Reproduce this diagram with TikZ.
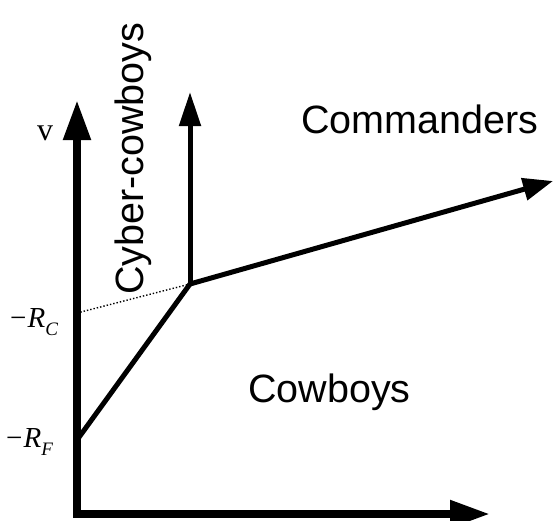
\documentclass[tikz,border=0pt]{standalone}
\usepackage{fontspec}
\setmainfont{Liberation Sans}
\newfontfamily\mathserif{Liberation Serif}
\usetikzlibrary{arrows.meta,positioning}

\begin{document}
\begin{tikzpicture}[
    x=1pt, y=-1pt,
    axis/.style={line width=8pt, line join=miter,
      {Triangle[length=40pt, width=26pt]}-{Triangle[length=40pt, width=26pt]}},
    bound/.style={line width=5pt, line join=round},
    boundarrow/.style={bound, -{Triangle[length=34pt, width=21pt]}},
    region/.style={inner sep=0pt, font=\fontsize{39.5}{47}\selectfont},
    symb/.style={inner sep=0pt, font=\mathserif\fontsize{29}{33}\selectfont}
  ]
    \useasboundingbox (0,0) rectangle (556,520);
    % axes and boundary points
    \coordinate (origin) at (77,514);
    \coordinate (vtip) at (77,100);
    \coordinate (htip) at (490,514);
    \coordinate (rf) at (77,440);
    \coordinate (rc) at (77,313);
    \coordinate (kink) at (190,284);
    \coordinate (cybertip) at (190,92);
    \coordinate (cmdtip) at (553,181);
    \draw[axis] (vtip) -- (origin) -- (htip);
    \draw[bound] (rf) -- (kink);
    \draw[boundarrow] (kink) -- (cybertip);
    \draw[boundarrow, -{Triangle[length=30pt, width=22pt]}] (kink) -- (cmdtip);
    \draw[line width=1.4pt, dotted] (rc) -- (kink);
    % labels
    \node[symb, anchor=base west, font=\mathserif\fontsize{32}{36}\selectfont] (vlabel) at (37,140) {v};
    \node[symb, anchor=base west] (rclabel) at (10,327)
      {−\kern1pt\textit{R}\raisebox{-8pt}{\fontsize{19}{22}\selectfont\textit{C}}};
    \node[symb, anchor=base west] (rflabel) at (6,447)
      {−\kern1pt\textit{R}\raisebox{-8pt}{\fontsize{19}{22}\selectfont\textit{F}}};
    \node[region, anchor=base west] (commanders) at (301,133) {Commanders};
    \node[region, anchor=base west] (cowboys) at (248,402) {Cowboys};
    \node[region, anchor=base west, rotate=90] (cyber) at (143,295) {Cyber-cowboys};
  \end{tikzpicture}
\end{document}
